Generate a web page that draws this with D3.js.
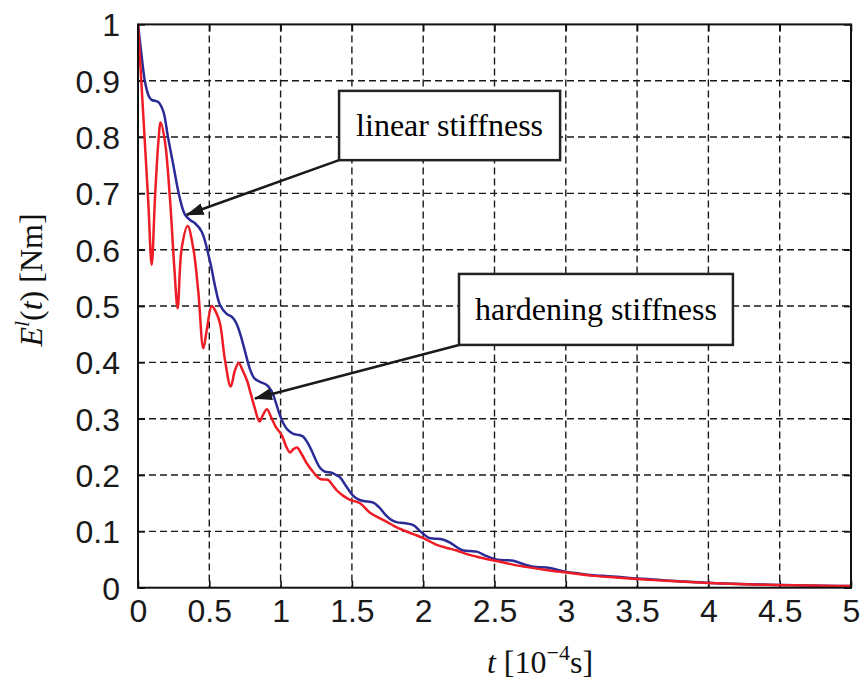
<!DOCTYPE html>
<html><head><meta charset="utf-8">
<script src="https://cdn.jsdelivr.net/npm/d3@7"></script>
<style>html,body{margin:0;padding:0;background:#fff;}svg{display:block;}</style>
</head><body>
<svg id="chart" width="864" height="682"></svg>
<script>
// ---- data ----
const xTicks = [0,0.5,1,1.5,2,2.5,3,3.5,4,4.5,5];
const yTicks = [0,0.1,0.2,0.3,0.4,0.5,0.6,0.7,0.8,0.9,1];

const linearT = [0,0.025,0.049,0.075,0.096,0.143,0.178,0.21,0.248,0.29,0.33,0.37,0.40,0.447,0.505,0.545,0.575,0.622,0.657,0.685,0.715,0.75,0.785,0.815,0.85,0.903,0.935,0.961,0.99,1.019,1.05,1.089,1.13,1.159,1.19,1.218,1.25,1.276,1.31,1.358,1.39,1.417,1.46,1.51,1.545,1.58,1.65,1.69,1.73,1.779,1.82,1.861,1.931,1.98,2.036,2.08,2.13,2.188,2.235,2.282,2.33,2.376,2.446,2.50,2.539,2.632,2.70,2.772,2.866,2.94,3.006,3.1,3.17,3.26,3.357,3.47,3.59,3.7,3.824,3.94,4.058,4.17,4.29,4.4,4.525,4.7,4.925,5.0];
const linearE = [1.0,0.945,0.898,0.873,0.866,0.862,0.845,0.80,0.750,0.695,0.662,0.652,0.647,0.632,0.579,0.53,0.502,0.486,0.481,0.472,0.452,0.42,0.388,0.372,0.366,0.360,0.350,0.333,0.31,0.292,0.280,0.273,0.271,0.268,0.257,0.243,0.225,0.213,0.206,0.204,0.200,0.196,0.18,0.163,0.157,0.154,0.151,0.143,0.131,0.120,0.116,0.115,0.111,0.100,0.089,0.087,0.086,0.080,0.072,0.066,0.065,0.064,0.056,0.051,0.049,0.048,0.042,0.037,0.036,0.032,0.028,0.025,0.0225,0.021,0.0195,0.017,0.015,0.013,0.011,0.0095,0.008,0.007,0.006,0.0055,0.005,0.004,0.003,0.003];

const hardT = [0,0.037,0.072,0.096,0.119,0.143,0.159,0.189,0.224,0.255,0.278,0.306,0.348,0.388,0.423,0.458,0.482,0.517,0.545,0.575,0.610,0.650,0.680,0.706,0.735,0.767,0.790,0.820,0.852,0.875,0.904,0.935,0.965,1.008,1.04,1.066,1.09,1.115,1.15,1.183,1.23,1.276,1.305,1.335,1.365,1.393,1.44,1.487,1.557,1.627,1.69,1.744,1.80,1.861,1.93,2.001,2.095,2.16,2.235,2.30,2.376,2.46,2.539,2.63,2.72,2.82,2.9,3.006,3.1,3.2,3.35,3.5,3.65,3.8,4.0,4.2,4.4,4.6,4.8,5.0];
const hardE = [1.0,0.839,0.685,0.573,0.691,0.792,0.826,0.792,0.691,0.567,0.496,0.602,0.642,0.602,0.525,0.425,0.457,0.500,0.490,0.469,0.404,0.357,0.386,0.399,0.385,0.366,0.345,0.318,0.295,0.306,0.317,0.302,0.286,0.271,0.250,0.240,0.246,0.249,0.236,0.221,0.205,0.193,0.192,0.191,0.182,0.173,0.163,0.156,0.150,0.133,0.124,0.117,0.109,0.102,0.095,0.088,0.076,0.071,0.066,0.060,0.055,0.050,0.046,0.041,0.037,0.033,0.030,0.027,0.024,0.021,0.018,0.0155,0.013,0.011,0.0085,0.0065,0.0052,0.0042,0.0034,0.003];

const annLabels = ["linear stiffness","hardening stiffness"];
// box corners (data units) and arrow tips (t,e)
const annBoxT = [[1.41,2.96],[2.251,4.172]];
const annBoxE = [[0.882,0.759],[0.557,0.431]];
const annTip = [[0.341,0.662],[0.820,0.336]];

// ---- layout ----
const m = {l:138, t:24.4, r:851, b:587.7};
const x = d3.scaleLinear().domain([0,5]).range([m.l, m.r]);
const y = d3.scaleLinear().domain([0,1]).range([m.b, m.t]);
const svg = d3.select("#chart");
const serif = "'Liberation Serif','Times New Roman',serif";

// grid
const g = svg.append("g");
g.selectAll(".vg").data(xTicks.slice(1,-1)).enter().append("line")
  .attr("x1",d=>x(d)).attr("x2",d=>x(d)).attr("y1",m.t).attr("y2",m.b)
  .attr("stroke","#1a1a1a").attr("stroke-width",1.4).attr("stroke-dasharray","7,4");
g.selectAll(".hg").data(yTicks.slice(1,-1)).enter().append("line")
  .attr("y1",d=>y(d)).attr("y2",d=>y(d)).attr("x1",m.l).attr("x2",m.r)
  .attr("stroke","#1a1a1a").attr("stroke-width",1.4).attr("stroke-dasharray","7,4");

// axes with inward ticks
const tickLen = 7;
const fmt = d => d3.format("~g")(d);
const xb = svg.append("g").attr("transform",`translate(0,${m.b})`)
  .call(d3.axisBottom(x).tickValues(xTicks).tickFormat(fmt).tickSizeInner(-tickLen).tickSizeOuter(0).tickPadding(tickLen+28));
const xt = svg.append("g").attr("transform",`translate(0,${m.t})`)
  .call(d3.axisTop(x).tickValues(xTicks).tickFormat("").tickSizeInner(-tickLen).tickSizeOuter(0));
const yl = svg.append("g").attr("transform",`translate(${m.l},0)`)
  .call(d3.axisLeft(y).tickValues(yTicks).tickFormat(fmt).tickSizeInner(-tickLen).tickSizeOuter(0).tickPadding(tickLen+11));
const yr = svg.append("g").attr("transform",`translate(${m.r},0)`)
  .call(d3.axisRight(y).tickValues(yTicks).tickFormat("").tickSizeInner(-tickLen).tickSizeOuter(0));
[xb,xt,yl,yr].forEach(a=>{
  a.select(".domain").remove();
  a.selectAll(".tick line").attr("stroke","#111").attr("stroke-width",1.6);
  a.selectAll("text").attr("font-family","'Liberation Sans',Arial,sans-serif").attr("font-size",32).attr("fill","#1a1a1a");
});
xb.selectAll("text").attr("dy",null).attr("y",34);
yl.selectAll("text").attr("dy","0.36em");

// lines
const line = d3.line().x(d=>x(d[0])).y(d=>y(d[1])).curve(d3.curveCatmullRom.alpha(0.5));
svg.append("clipPath").attr("id","pc").append("rect")
  .attr("x",m.l).attr("y",m.t-3).attr("width",m.r-m.l).attr("height",m.b-m.t+3);
svg.append("path").datum(linearT.map((t,i)=>[t,linearE[i]]))
  .attr("d",line).attr("fill","none").attr("stroke","#2b2b98").attr("stroke-width",2.5).attr("clip-path","url(#pc)");
svg.append("path").datum(hardT.map((t,i)=>[t,hardE[i]]))
  .attr("d",line).attr("fill","none").attr("stroke","#ee1c25").attr("stroke-width",2.5).attr("clip-path","url(#pc)");

// frame
svg.append("rect").attr("x",m.l).attr("y",m.t).attr("width",m.r-m.l).attr("height",m.b-m.t)
  .attr("fill","none").attr("stroke","#111").attr("stroke-width",2);

// annotations
svg.append("defs").append("marker").attr("id","ah").attr("viewBox","0 0 18 12")
  .attr("refX",17).attr("refY",6).attr("markerWidth",18).attr("markerHeight",12)
  .attr("markerUnits","userSpaceOnUse").attr("orient","auto")
  .append("path").attr("d","M0,0 L18,6 L0,12 Z").attr("fill","#1a1a1a");
annLabels.forEach((lab,i)=>{
  const x0=x(annBoxT[i][0]), x1=x(annBoxT[i][1]), y0=y(annBoxE[i][0]), y1=y(annBoxE[i][1]);
  svg.append("line").attr("x1",x0).attr("y1",y1).attr("x2",x(annTip[i][0])).attr("y2",y(annTip[i][1]))
    .attr("stroke","#1a1a1a").attr("stroke-width",2.5).attr("marker-end","url(#ah)");
  svg.append("rect").attr("x",x0).attr("y",y0).attr("width",x1-x0).attr("height",y1-y0)
    .attr("fill","#fff").attr("stroke","#222").attr("stroke-width",2.5);
  svg.append("text").attr("x",(x0+x1)/2).attr("y",(y0+y1)/2).attr("dy","0.33em")
    .attr("text-anchor","middle").attr("font-family",serif)
    .attr("font-size",32).attr("fill","#000").text(lab);
});

// axis titles
const xtl = svg.append("text").attr("x",540).attr("y",673).attr("text-anchor","middle")
  .attr("font-family",serif).attr("font-size",32).attr("fill","#111");
xtl.append("tspan").attr("font-style","italic").text("t");
xtl.append("tspan").text(" [10");
xtl.append("tspan").attr("font-size",22).attr("dy",-13).text("−4");
xtl.append("tspan").attr("dy",13).text("s]");

const ytl = svg.append("text").attr("transform","translate(42,280) rotate(-90)").attr("text-anchor","middle")
  .attr("font-family",serif).attr("font-size",32).attr("fill","#111");
ytl.append("tspan").attr("font-style","italic").text("E");
ytl.append("tspan").attr("font-style","italic").attr("font-size",22).attr("dy",-13).text("l");
ytl.append("tspan").attr("dy",13).text("(");
ytl.append("tspan").attr("font-style","italic").text("t");
ytl.append("tspan").text(") [Nm]");
</script>
</body></html>
